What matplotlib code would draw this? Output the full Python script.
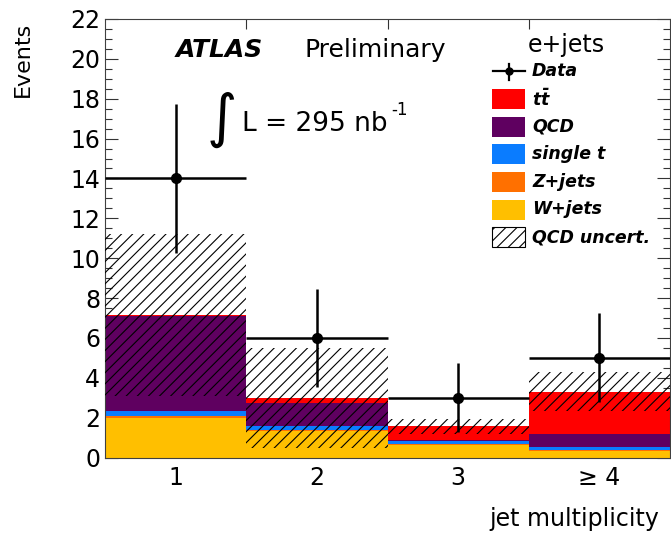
import numpy as np
import matplotlib
matplotlib.use("Agg")
import matplotlib.pyplot as plt
from matplotlib.patches import Rectangle
from matplotlib.lines import Line2D
from matplotlib.ticker import MultipleLocator, FixedLocator

plt.rcParams['font.family'] = ['DejaVu Sans']
plt.rcParams['mathtext.fontset'] = 'custom'
plt.rcParams['mathtext.it'] = 'DejaVu Sans:italic:bold'
plt.rcParams['mathtext.rm'] = 'DejaVu Sans:italic:bold'
plt.rcParams['hatch.linewidth'] = 0.8

# ---- data ----
bins = [1, 2, 3, 4]
bin_labels = ['1', '2', '3', '\u2265 4']
wjets = [2.00, 1.32, 0.64, 0.33]
zjets = [0.06, 0.04, 0.04, 0.03]
single_t = [0.25, 0.24, 0.17, 0.17]
qcd = [4.77, 1.13, 0.02, 0.67]
ttbar = [0.06, 0.25, 0.69, 2.11]
qcd_unc = [4.05, 2.49, 0.37, 1.00]
data = [14, 6, 3, 5]
data_err = [3.74, 2.45, 1.73, 2.24]

names = ['W+jets', 'Z+jets', 'single t', 'QCD', r'$t\bar{t}$']
colors = ['#FFBF00', '#FF7000', '#0A7CFF', '#5F0060', '#FF0000']
stack = [wjets, zjets, single_t, qcd, ttbar]

W, H = 671, 534
fig = plt.figure(figsize=(W / 100, H / 100), dpi=100)
ax = fig.add_axes([105 / W, 1 - 457.5 / H, (670 - 105) / W, (457.5 - 19) / H])

x = np.array(bins, dtype=float)
bottom = np.zeros(len(bins))
for vals, col in zip(stack, colors):
    v = np.array(vals)
    ax.bar(x, v, width=1.0, bottom=bottom, color=col, linewidth=0, zorder=2)
    bottom = bottom + v
total = bottom
unc = np.array(qcd_unc)
ax.bar(x, 2 * unc, width=1.0, bottom=total - unc, facecolor='none',
       edgecolor='black', hatch='///', linewidth=0, zorder=3)

ax.errorbar(x, data, yerr=data_err, xerr=0.5, fmt='o', color='black',
            ms=7, elinewidth=1.8, capsize=0, zorder=5)

ax.set_xlim(0.5, 4.5)
ax.set_ylim(0, 22)
ax.yaxis.set_major_locator(MultipleLocator(2))
ax.yaxis.set_minor_locator(MultipleLocator(0.5))
ax.xaxis.set_major_locator(FixedLocator(bins))
ax.set_xticklabels(bin_labels)
ax.xaxis.set_minor_locator(FixedLocator([1.5, 2.5, 3.5]))
ax.tick_params(axis='y', which='both', direction='in', left=True, right=True,
               labelsize=17, pad=3.5, color='#333333', width=0.8)
ax.tick_params(axis='y', which='major', length=9.5)
ax.tick_params(axis='y', which='minor', length=5)
ax.tick_params(axis='x', which='major', length=0, labelsize=17, pad=6)
ax.tick_params(axis='x', which='minor', direction='in', top=True, bottom=True,
               length=7, width=0.8, color='#333333')
for s in ax.spines.values():
    s.set_color('#404040')
    s.set_linewidth(0.8)


def fx(px):
    return px / W


def fy(py):
    return 1 - py / H


fig.text(fx(23), fy(22), 'Events', rotation=90, ha='center', va='top', fontsize=16)
fig.text(fx(659), fy(526), 'jet multiplicity', ha='right', va='baseline', fontsize=17)
fig.text(fx(219.5), fy(57), 'ATLAS', ha='center', va='baseline', fontsize=18,
         fontweight='bold', fontstyle='italic')
fig.text(fx(375), fy(57), 'Preliminary', ha='center', va='baseline', fontsize=18)
fig.text(fx(222), fy(119), '\u222b', ha='center', va='center', fontsize=42)
fig.text(fx(242), fy(131), 'L = 295 nb', ha='left', va='baseline', fontsize=19)
fig.text(fx(391), fy(115), '-1', ha='left', va='baseline', fontsize=12)
fig.text(fx(566), fy(52), 'e+jets', ha='center', va='baseline', fontsize=17)

# legend (drawn by hand)
leg_y = [71.5, 99.1, 126.7, 154.3, 181.9, 209.5, 237.1]
leg_lab = ['Data', r'$t\bar{t}$', 'QCD', 'single t', 'Z+jets', 'W+jets', 'QCD uncert.']
leg_col = [None, colors[4], colors[3], colors[2], colors[1], colors[0], 'hatch']
for yy, lab, col in zip(leg_y, leg_lab, leg_col):
    if col is None:
        fig.add_artist(Line2D([fx(493), fx(525)], [fy(yy), fy(yy)], color='black', lw=1.6))
        fig.add_artist(Line2D([fx(509), fx(509)], [fy(yy - 8), fy(yy + 8)], color='black', lw=1.6))
        fig.add_artist(Line2D([fx(509)], [fy(yy)], marker='o', ms=5, color='black'))
    elif col == 'hatch':
        fig.add_artist(Rectangle((fx(492), fy(yy + 10)), 33 / W, 20 / H,
                                 transform=fig.transFigure, facecolor='white',
                                 edgecolor='black', hatch='///', lw=0.8))
    else:
        fig.add_artist(Rectangle((fx(492), fy(yy + 10)), 33 / W, 20 / H,
                                 transform=fig.transFigure, facecolor=col, lw=0))
    fig.text(fx(532), fy(yy), lab, ha='left', va='center', fontsize=12.5,
             fontweight='bold', fontstyle='italic')

fig.savefig('out.png', dpi=100)
